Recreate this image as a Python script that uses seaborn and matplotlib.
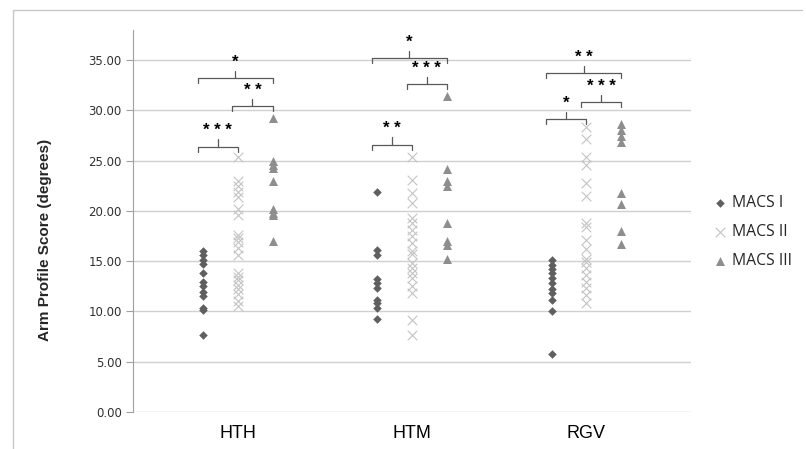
import pandas as pd
import matplotlib.pyplot as plt
import seaborn as sns
from matplotlib.lines import Line2D

# Categories
groups = ["HTH", "HTM", "RGV"]
classes = ["MACS I", "MACS II", "MACS III"]

# Arm profile scores
hth_macs1 = [16.0, 15.6, 15.1, 14.7, 13.8, 12.9, 12.5, 11.9, 11.5, 10.3, 10.1, 7.7]
hth_macs2 = [25.4, 23.0, 22.5, 21.9, 21.4, 20.2, 19.6, 17.6, 17.3, 16.9, 16.3, 15.6,
             13.8, 13.4, 13.1, 12.6, 12.2, 11.7, 11.0, 10.5]
hth_macs3 = [29.2, 25.0, 24.6, 24.3, 23.0, 20.2, 19.8, 19.6, 17.0]

htm_macs1 = [21.9, 16.1, 15.6, 13.2, 12.8, 12.3, 11.1, 10.8, 10.3, 9.3]
htm_macs2 = [25.4, 23.1, 21.8, 20.8, 19.3, 18.8, 18.1, 17.5, 16.8, 16.0, 15.7, 14.8,
             14.3, 13.8, 13.3, 12.5, 11.8, 9.2, 7.7]
htm_macs3 = [31.4, 24.2, 23.0, 22.5, 18.8, 17.0, 16.6, 15.2]

rgv_macs1 = [15.1, 14.6, 14.2, 13.8, 13.3, 12.8, 12.2, 11.8, 11.1, 10.0, 5.8]
rgv_macs2 = [28.4, 27.2, 25.4, 24.6, 22.8, 21.5, 18.8, 18.4, 17.1, 16.2, 15.2, 14.9,
             14.3, 13.6, 12.9, 12.3, 11.6, 10.8]
rgv_macs3 = [28.6, 28.1, 27.5, 26.9, 21.8, 20.7, 18.0, 16.7]

scores = {
    ("HTH", "MACS I"): hth_macs1, ("HTH", "MACS II"): hth_macs2, ("HTH", "MACS III"): hth_macs3,
    ("HTM", "MACS I"): htm_macs1, ("HTM", "MACS II"): htm_macs2, ("HTM", "MACS III"): htm_macs3,
    ("RGV", "MACS I"): rgv_macs1, ("RGV", "MACS II"): rgv_macs2, ("RGV", "MACS III"): rgv_macs3,
}

# Significance brackets
sig_group = ["HTH", "HTH", "HTH", "HTM", "HTM", "HTM", "RGV", "RGV", "RGV"]
sig_left = ["MACS I", "MACS II", "MACS I", "MACS I", "MACS II", "MACS I", "MACS I", "MACS II", "MACS I"]
sig_right = ["MACS II", "MACS III", "MACS III", "MACS II", "MACS III", "MACS III", "MACS II", "MACS III", "MACS III"]
sig_label = ["***", "**", "*", "**", "***", "*", "*", "***", "**"]
sig_level = [26.4, 30.4, 33.2, 26.6, 32.6, 35.2, 29.1, 30.8, 33.7]

# Long table
rows = []
for (g, c), vals in scores.items():
    for v in vals:
        rows.append({"Group": g, "Class": c, "Score": v})
df = pd.DataFrame(rows)

offset = {"MACS I": -0.2, "MACS II": 0.0, "MACS III": 0.2}
df["x"] = df["Group"].map({g: i for i, g in enumerate(groups)}) + df["Class"].map(offset)

sns.set_style("white")
plt.rcParams["font.family"] = ["DejaVu Sans"]

fig = plt.figure(figsize=(8.06, 4.49), dpi=100)
ax = fig.add_axes([133 / 806, 1 - 412 / 449, (691 - 133) / 806, (412 - 30) / 449])

styles = {
    "MACS I": dict(marker="D", color="#5f5f5f", s=19, linewidth=0),
    "MACS II": dict(marker="x", color="#c4c4c4", s=48, linewidth=0.8),
    "MACS III": dict(marker="^", color="#8e8e8e", s=42, linewidth=0),
}
for c in classes:
    sns.scatterplot(data=df[df["Class"] == c], x="x", y="Score", label=c, ax=ax,
                    zorder=3, **styles[c])

# Brackets
for g, l, r, lab, h in zip(sig_group, sig_left, sig_right, sig_label, sig_level):
    gi = groups.index(g)
    x0 = gi + offset[l] - 0.03
    x1 = gi + offset[r]
    xm = (x0 + x1) / 2
    ax.plot([x0, x0, x1, x1], [h - 0.5, h, h, h - 0.5], color="#595959", lw=0.9, zorder=4, clip_on=False)
    ax.plot([xm, xm], [h, h + 0.75], color="#595959", lw=0.9, zorder=4, clip_on=False)
    ax.text(xm, h + 0.85, " ".join(lab) if len(lab) > 1 else lab, ha="center", va="bottom",
            fontsize=12, fontweight="bold", family="Liberation Sans", color="black")

ax.set_xlim(-0.6, 2.6)
ax.set_ylim(0, 38)
ax.set_yticks(range(0, 40, 5))
ax.set_yticklabels([f"{v:.2f}" for v in range(0, 40, 5)], fontsize=8.5, color="#303030")
ax.set_xticks(range(len(groups)))
ax.set_xticklabels(groups, fontsize=13, family="Liberation Sans", color="black")
ax.tick_params(axis="x", length=0, pad=9)
ax.tick_params(axis="y", length=5, width=0.8, color="#a0a0a0", direction="out", pad=3, left=True)
ax.set_xlabel("")
ax.set_ylabel("")

ax.grid(axis="y", color="#d0d0d0", lw=1.0)
ax.grid(axis="x", visible=False)
for side in ["top", "right", "bottom"]:
    ax.spines[side].set_visible(False)
ax.spines["left"].set_color("#a0a0a0")
ax.spines["left"].set_linewidth(0.8)

fig.text(45 / 806, 1 - 240 / 449, "Arm Profile Score (degrees)", rotation=90, ha="center", va="center",
         fontsize=11, fontweight="bold", family="Liberation Sans")

handles, labels = ax.get_legend_handles_labels()
ax.legend(handles, labels, loc="center left", bbox_to_anchor=(714 / 806, 1 - 232 / 449),
          bbox_transform=fig.transFigure, frameon=False, handletextpad=0.34, labelspacing=0.85,
          borderpad=0, borderaxespad=0, handlelength=0.8,
          prop={"family": "Open Sans", "size": 11.3})

# outer chart frame
fig.add_artist(Line2D([13 / 806, 0.995], [1 - 10 / 449] * 2, color="#c8c8c8", lw=1, transform=fig.transFigure))
fig.add_artist(Line2D([13 / 806] * 2, [0, 1 - 10 / 449], color="#c8c8c8", lw=1, transform=fig.transFigure))

fig.savefig("out.png", dpi=100)
